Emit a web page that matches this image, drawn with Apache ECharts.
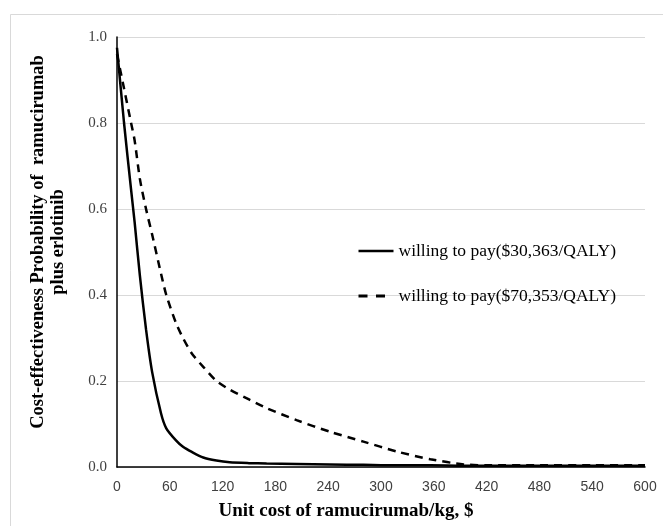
<!DOCTYPE html>
<html>
<head>
<meta charset="utf-8">
<script src="https://cdn.jsdelivr.net/npm/echarts@6/dist/echarts.min.js"></script>
<style>html,body{margin:0;padding:0;background:#fff;}#c{width:663px;height:526px;}</style>
</head>
<body>
<div id="c"></div>
<script>
const unitCost = [0, 8, 16, 20, 26, 33, 40, 50, 56, 67, 75, 85, 98, 113, 128, 150, 170, 204, 242, 280, 318, 356, 394, 420, 480, 540, 600];
const wtp30363 = [0.975, 0.80, 0.645, 0.57, 0.445, 0.32, 0.22, 0.125, 0.09, 0.062, 0.047, 0.035, 0.022, 0.015, 0.011, 0.009, 0.008, 0.007, 0.006, 0.005, 0.004, 0.004, 0.003, 0.003, 0.003, 0.003, 0.003];
const wtp70353 = [0.96, 0.88, 0.80, 0.76, 0.67, 0.60, 0.54, 0.45, 0.40, 0.335, 0.30, 0.264, 0.233, 0.20, 0.18, 0.157, 0.137, 0.109, 0.082, 0.059, 0.036, 0.018, 0.006, 0.004, 0.004, 0.004, 0.004];
const seriesNames = ['willing to pay($30,363/QALY)', 'willing to pay($70,353/QALY)'];
const xTitle = 'Unit cost of ramucirumab/kg, $';
const yTitleLines = ['Cost-effectiveness Probability of  ramucirumab', 'plus erlotinib'];

const chart = echarts.init(document.getElementById('c'));
const pairs = arr => unitCost.map((x, i) => [x, arr[i]]);
const serif = '"Liberation Serif", "Times New Roman", serif';
chart.setOption({
  animation: false,
  backgroundColor: '#fff',
  grid: { left: 117, right: 18, top: 37, bottom: 59 },
  xAxis: {
    type: 'value', min: 0, max: 600, interval: 60,
    axisLine: { show: true, lineStyle: { color: '#000', width: 1.5 } },
    axisTick: { show: false },
    splitLine: { show: false },
    axisLabel: { color: '#404040', fontSize: 14, fontFamily: '"Liberation Sans", Arial, sans-serif', margin: 13 }
  },
  yAxis: {
    type: 'value', min: 0, max: 1, interval: 0.2,
    axisLine: { show: true, lineStyle: { color: '#000', width: 1.5 } },
    axisTick: { show: false },
    splitLine: { show: true, lineStyle: { color: '#d9d9d9', width: 1 } },
    axisLabel: { color: '#404040', fontSize: 15, fontFamily: serif, margin: 10, formatter: v => v.toFixed(1) }
  },
  legend: {
    orient: 'vertical', left: 352, top: 237, itemWidth: 35, itemHeight: 14, itemGap: 27,
    itemStyle: { opacity: 0 },
    textStyle: { color: '#000', fontSize: 17.5, fontFamily: serif },
    data: [
      { name: seriesNames[0], lineStyle: { width: 2.5, type: 'solid', color: '#000' } },
      { name: seriesNames[1], lineStyle: { width: 3, type: [9, 8.5], color: '#000' } }
    ]
  },
  series: [
    { name: seriesNames[0], type: 'line', data: pairs(wtp30363), smooth: 0.25, symbol: 'none', showSymbol: false,
      lineStyle: { color: '#000', width: 2.5, type: 'solid' }, itemStyle: { color: '#000' } },
    { name: seriesNames[1], type: 'line', data: pairs(wtp70353), smooth: 0.25, symbol: 'none', showSymbol: false,
      lineStyle: { color: '#000', width: 2.5, type: [8, 6] }, itemStyle: { color: '#000' } }
  ],
  graphic: [
    { type: 'rect', left: 8, top: 12, shape: { width: 700, height: 600 }, style: { fill: 'none', stroke: '#d9d9d9', lineWidth: 1 }, silent: true, z: -10 },
    { type: 'text', x: 346, y: 511, style: { text: xTitle, font: 'bold 19px ' + serif, fill: '#000', textAlign: 'center', textVerticalAlign: 'middle' } },
    { type: 'text', x: 48, y: 242, rotation: Math.PI / 2, style: { text: yTitleLines.join('\n'), font: 'bold 18.5px ' + serif, fill: '#000', textAlign: 'center', textVerticalAlign: 'middle', lineHeight: 20 } }
  ]
});
</script>
</body>
</html>
